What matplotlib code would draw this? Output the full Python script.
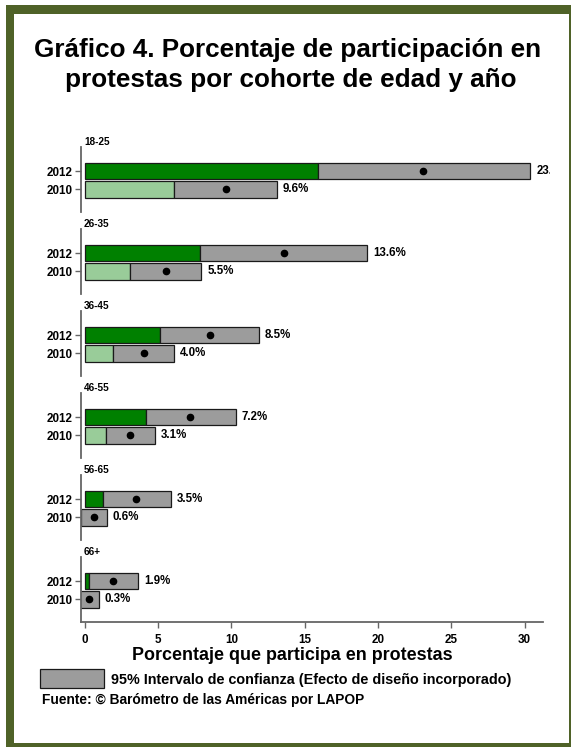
import matplotlib
matplotlib.use("Agg")
import matplotlib.pyplot as plt
from matplotlib.patches import Rectangle
from matplotlib.transforms import Bbox, TransformedBbox

plt.rcParams['font.family'] = ['Liberation Sans', 'DejaVu Sans']

# Data: participation in protests (%) by age cohort, with 95% confidence intervals
cohorts = ["18-25", "26-35", "36-45", "46-55", "56-65", "66+"]
years = ["2012", "2010"]
est_2012 = [23.1, 13.6, 8.5, 7.2, 3.5, 1.9]
low_2012 = [15.9, 7.85, 5.1, 4.15, 1.2, 0.25]
high_2012 = [30.4, 19.25, 11.85, 10.3, 5.85, 3.65]
est_2010 = [9.6, 5.5, 4.0, 3.1, 0.6, 0.3]
low_2010 = [6.1, 3.1, 1.9, 1.45, -0.28, -0.33]
high_2010 = [13.1, 7.95, 6.05, 4.8, 1.48, 0.93]
xticks = [0, 5, 10, 15, 20, 25, 30]

W, H = 571, 747
fig = plt.figure(figsize=(W / 100, H / 100), dpi=100)
fig.patch.set_facecolor("white")


def fx(x):
    return x / W


def fy(y):
    return 1 - y / H


# olive frame around the whole graphic
frame = "#4f6228"
fig.add_artist(Rectangle((fx(6), 0), 1 - fx(6), fy(5), transform=fig.transFigure,
                         facecolor=frame, edgecolor="none", zorder=-20))
fig.add_artist(Rectangle((fx(14), fy(743)), fx(569) - fx(14), fy(14) - fy(743),
                         transform=fig.transFigure, facecolor="white",
                         edgecolor="none", zorder=-19))

# title
title_kw = dict(ha="center", va="baseline", fontsize=18.8, fontweight="bold", color="black")
fig.text(fx(288), fy(57), "Gráfico 4. Porcentaje de participación en", **title_kw)
fig.text(fx(291), fy(87), "protestas por cohorte de edad y año", **title_kw)

dark_green = "#008000"
light_green = "#99cc99"
ci_gray = "#9c9c9c"
edge = "#1a1a1a"
spine_col = "#666666"
bar_h = 0.9
clip = TransformedBbox(Bbox.from_extents(0, 0, fx(550), 1), fig.transFigure)

ax_left, ax_right = 81, 543
for i, name in enumerate(cohorts):
    top = 147.3 + 82 * i
    bottom = top + 64.5
    ax = fig.add_axes([fx(ax_left), fy(bottom), fx(ax_right) - fx(ax_left), fy(top) - fy(bottom)])
    ax.set_xlim(-0.27, 31.26)
    ax.set_ylim(-1.22, 2.3)
    ax.patch.set_alpha(0)

    rows = [(1, est_2012[i], low_2012[i], high_2012[i], dark_green),
            (0, est_2010[i], low_2010[i], high_2010[i], light_green)]
    for y, est, lo, hi, col in rows:
        if lo > 0:
            ax.barh(y, lo, left=0, height=bar_h, color=col, edgecolor=edge, linewidth=0.9)
        ax.barh(y, hi - lo, left=lo, height=bar_h, color=ci_gray, edgecolor=edge, linewidth=0.9)
        ax.plot(est, y, "o", color="black", markersize=4.5, zorder=5)
        t = ax.annotate(f"{est:.1f}%", xy=(hi, y), xytext=(4.2, 0), textcoords="offset points",
                        ha="left", va="center", fontsize=8.3, fontweight="bold",
                        annotation_clip=False)
        t.set_clip_on(True)
        t.set_clip_box(clip)

    ax.annotate(name, xy=(0, 1), xycoords="axes fraction", xytext=(2.2, 4.0),
                textcoords="offset points", ha="left", va="center",
                fontsize=7.2, fontweight="bold")

    ax.set_yticks([1, 0])
    ax.set_yticklabels(years, fontsize=8.4, fontweight="bold")
    ax.tick_params(axis="y", length=4.3, width=1.0, color=spine_col, pad=1.6)
    for s in ["top", "right"]:
        ax.spines[s].set_visible(False)
    ax.spines["left"].set_color(spine_col)
    ax.spines["left"].set_linewidth(1.3)

    if i == len(cohorts) - 1:
        ax.spines["bottom"].set_color(spine_col)
        ax.spines["bottom"].set_linewidth(1.3)
        ax.set_xticks(xticks)
        ax.set_xticklabels([str(v) for v in xticks], fontsize=8.4, fontweight="bold")
        ax.tick_params(axis="x", length=4.0, width=1.0, color=spine_col, pad=4.6)
    else:
        ax.spines["bottom"].set_visible(False)
        ax.set_xticks([])

# x-axis title
fig.text(fx(292), fy(655), "Porcentaje que participa en protestas", ha="center", va="center",
         fontsize=12.9, fontweight="bold")

# confidence-interval key and source note
fig.add_artist(Rectangle((fx(40), fy(688)), fx(104) - fx(40), fy(669) - fy(688),
                         transform=fig.transFigure, facecolor=ci_gray, edgecolor=edge,
                         linewidth=0.9))
fig.text(fx(111), fy(680), "95% Intervalo de confianza (Efecto de diseño incorporado)",
         ha="left", va="center", fontsize=10.4, fontweight="bold")
fig.text(fx(42), fy(700), "Fuente: © Barómetro de las Américas por LAPOP",
         ha="left", va="center", fontsize=9.9, fontweight="bold")

fig.savefig("out.png", dpi=100, facecolor="white")
